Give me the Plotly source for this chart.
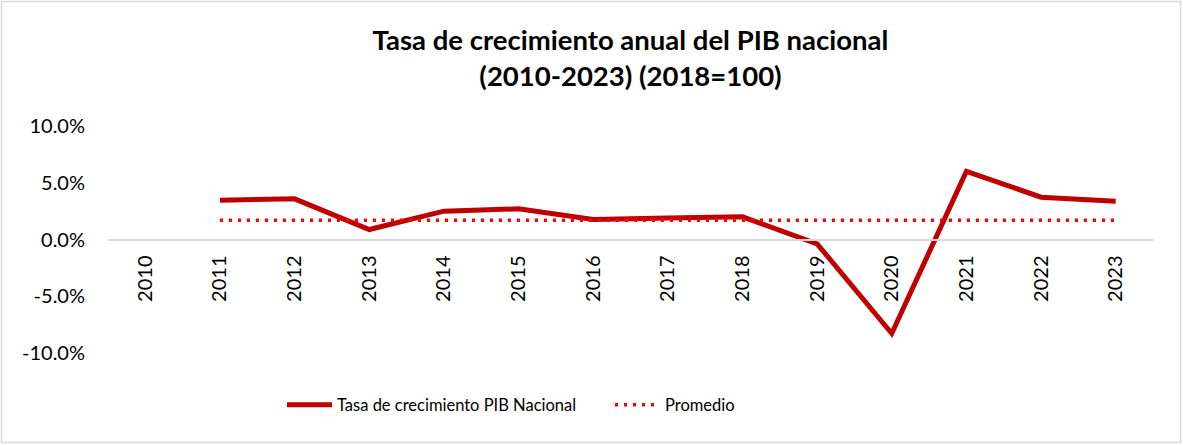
import plotly.graph_objects as go

years = ["2010", "2011", "2012", "2013", "2014", "2015", "2016",
         "2017", "2018", "2019", "2020", "2021", "2022", "2023"]
growth = [None, 0.0346, 0.0358, 0.0088, 0.0250, 0.0270, 0.0176,
          0.0190, 0.0200, -0.0038, -0.0828, 0.0600, 0.0373, 0.0337]
promedio_val = 0.0170
promedio = [None] + [promedio_val] * 13
y_tickvals = [-0.10, -0.05, 0.0, 0.05, 0.10]
y_ticktext = ["-10.0%", "-5.0%", "0.0%", "5.0%", "10.0%"]

W, H = 1183, 445
L, R, T, B = 108, 30, 126, 92
FONT = "Lato"

fig = go.Figure()
fig.add_trace(go.Scatter(
    x=years, y=growth, mode="lines", name="Tasa de crecimiento PIB Nacional",
    line=dict(color="#C00000", width=5), connectgaps=False))
fig.add_trace(go.Scatter(
    x=years, y=promedio, mode="lines", name="Promedio",
    line=dict(color="#FF0000", width=3.5, dash="3px,6px")))

pw = W - L - R
ph = H - T - B

fig.update_layout(
    width=W, height=H,
    margin=dict(l=L, r=R, t=T, b=B, autoexpand=False),
    paper_bgcolor="white", plot_bgcolor="white",
    font=dict(family=FONT, color="black", size=17),
    title=dict(text="<b>Tasa de crecimiento anual del PIB nacional<br>(2010-2023) (2018=100)</b>",
               x=0.5, xanchor="center", xref="paper", yref="container",
               y=1 - 50 / H, yanchor="top",
               font=dict(family=FONT, size=27.5, color="black")),
    showlegend=True,
    legend=dict(orientation="h", x=(282 - L) / pw, xanchor="left",
                y=-52 / ph, yanchor="middle", itemwidth=45,
                font=dict(family=FONT, size=16.5), entrywidth=268, entrywidthmode="pixels"),
    xaxis=dict(type="category", anchor="free", position=0.5, range=[-0.5, 13.5],
               showline=True, linecolor="#D9D9D9", linewidth=2, automargin=False,
               ticks="", tickangle=-90, showgrid=False, zeroline=False,
               ticklabelstandoff=7,
               tickfont=dict(family=FONT, size=20)),
    yaxis=dict(range=[-0.10, 0.10], tickvals=y_tickvals, ticktext=y_ticktext,
               showgrid=False, zeroline=False, showline=False, automargin=False,
               ticks="", ticklabelstandoff=22, tickfont=dict(family=FONT, size=20)),
)

fig.add_shape(type="rect", xref="paper", yref="paper",
              x0=(1.5 - L) / pw, x1=(W - 2.5 - L) / pw,
              y0=-(H - 2.5 - T - ph) / ph, y1=1 + (T - 1.5) / ph,
              line=dict(color="#D9D9D9", width=1.5), layer="below")

fig.write_html("out.html", config={"displayModeBar": False},
               post_script="document.body.style.margin='0';document.body.style.overflow='hidden';")
